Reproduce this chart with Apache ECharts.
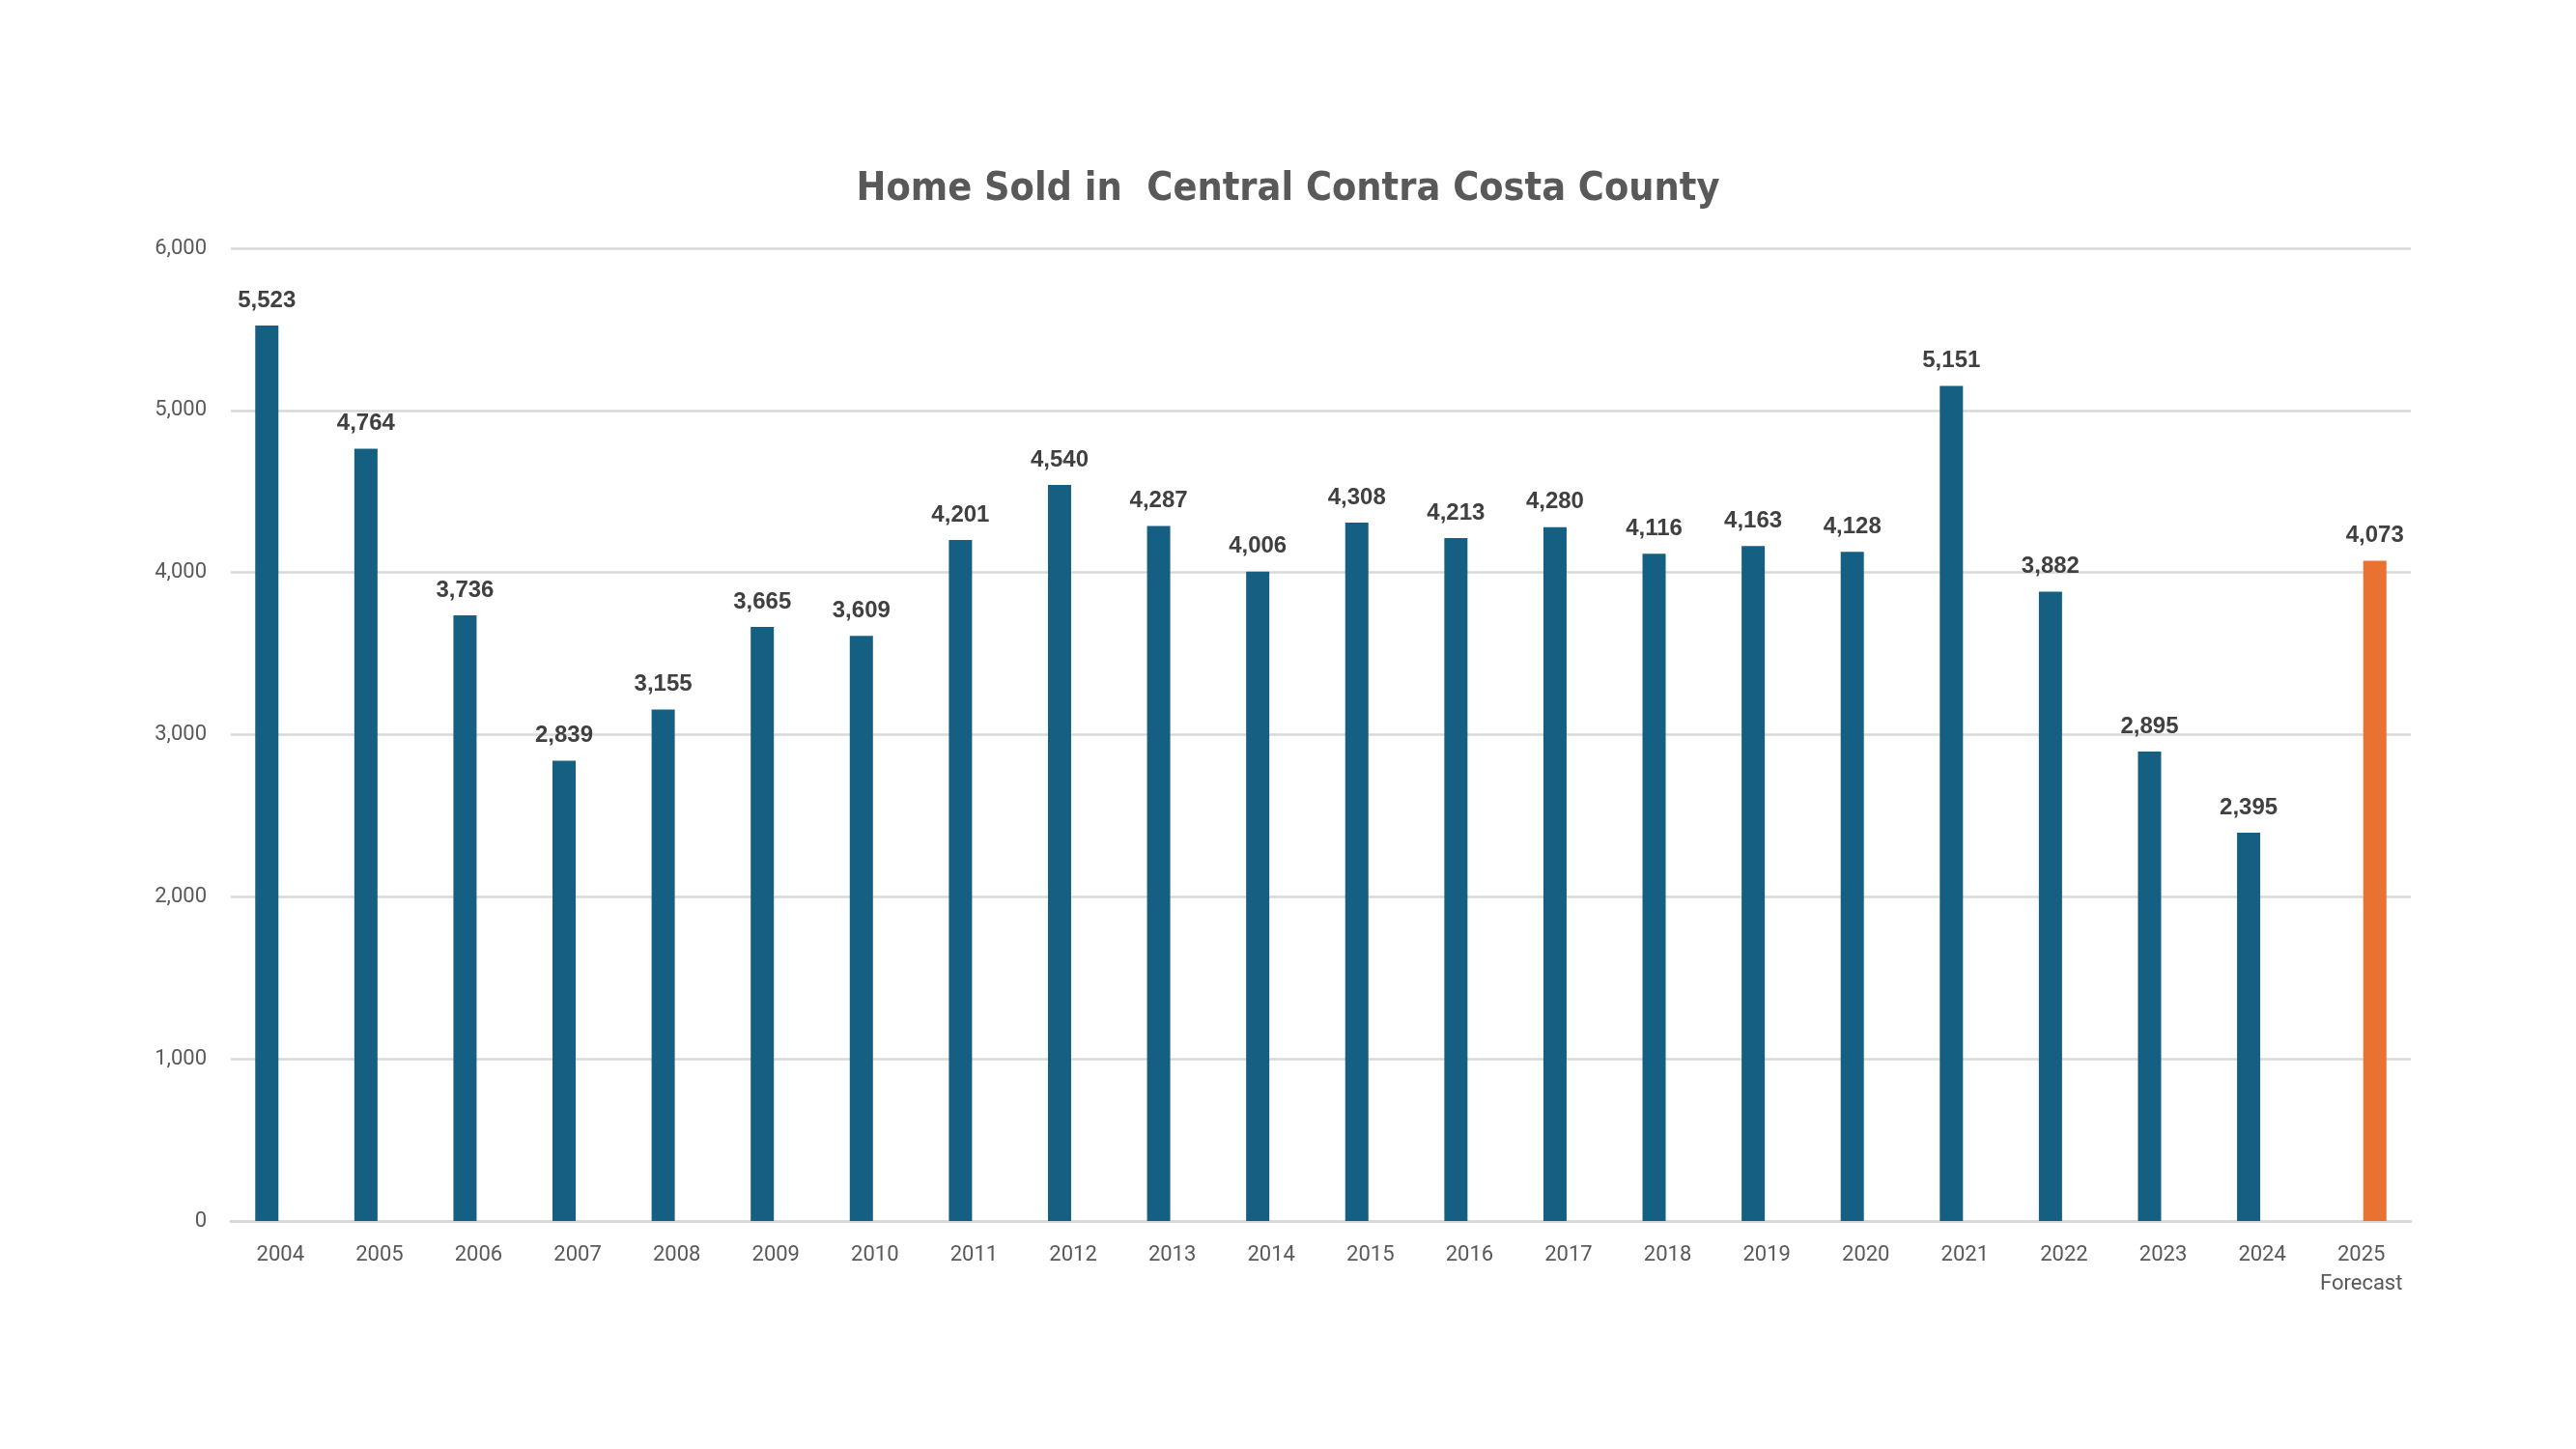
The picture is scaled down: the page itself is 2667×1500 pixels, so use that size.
<html>
<head>
<meta charset="utf-8" />
<title>Home Sold in Central Contra Costa County</title>
<script src="https://cdn.jsdelivr.net/npm/echarts@6/dist/echarts.min.js"></script>
<style>
html, body, #main { margin: 0; padding: 0; width: 100%; height: 100%; background: #fff; }
</style>
</head>
<body>
<div id="main"></div>
<script>
var years = ['2004', '2005', '2006', '2007', '2008', '2009', '2010', '2011', '2012', '2013', '2014',
	'2015', '2016', '2017', '2018', '2019', '2020', '2021', '2022', '2023', '2024', '2025\nForecast'];
var homesSold = [5523, 4764, 3736, 2839, 3155, 3665, 3609, 4201, 4540, 4287, 4006,
	4308, 4213, 4280, 4116, 4163, 4128, 5151, 3882, 2895, 2395, 4073];
var forecastIndex = 21;

// actual years in one series, the forecast in a second one (as in the original sheet)
var actual = homesSold.map(function (v, i) { return i === forecastIndex ? null : v; });
var forecast = homesSold.map(function (v, i) { return i === forecastIndex ? v : null; });

var labelStyle = {
	show: true,
	position: 'top',
	distance: 14,
	color: '#404040',
	fontFamily: 'Liberation Sans',
	fontWeight: 'bold',
	fontSize: 24,
	formatter: function (p) { return p.value.toLocaleString('en-US'); }
};

var chart = echarts.init(document.getElementById('main'));
chart.setOption({
	animation: false,
	title: {
		text: 'Home Sold in  Central Contra Costa County',
		left: 'center',
		top: 171,
		textStyle: {
			fontFamily: 'DejaVu Sans Condensed, Roboto Condensed, Roboto',
			fontWeight: 'bold',
			fontSize: 41,
			color: '#595959'
		}
	},
	grid: { left: 239, right: 171, top: 257, bottom: 236 },
	xAxis: {
		type: 'category',
		data: years,
		axisLine: { lineStyle: { color: '#D9D9D9', width: 3 } },
		axisTick: { show: false },
		axisLabel: {
			color: '#595959',
			fontFamily: 'Roboto',
			fontSize: 22,
			lineHeight: 30,
			margin: 20,
			interval: 0
		}
	},
	yAxis: {
		type: 'value',
		min: 0,
		max: 6000,
		interval: 1000,
		axisLine: { show: false },
		axisTick: { show: false },
		splitLine: { lineStyle: { color: '#D9D9D9', width: 2.5 } },
		axisLabel: {
			color: '#595959',
			fontFamily: 'Roboto',
			fontSize: 22,
			margin: 25,
			formatter: function (v) { return v.toLocaleString('en-US'); }
		}
	},
	series: [{
		name: 'Homes Sold',
		type: 'bar',
		data: actual,
		barWidth: 24,
		barGap: '17%',
		itemStyle: { color: '#156082' },
		label: labelStyle
	}, {
		name: 'Forecast',
		type: 'bar',
		data: forecast,
		barWidth: 24,
		barGap: '17%',
		itemStyle: { color: '#E97132' },
		label: labelStyle
	}]
});
</script>
</body>
</html>
